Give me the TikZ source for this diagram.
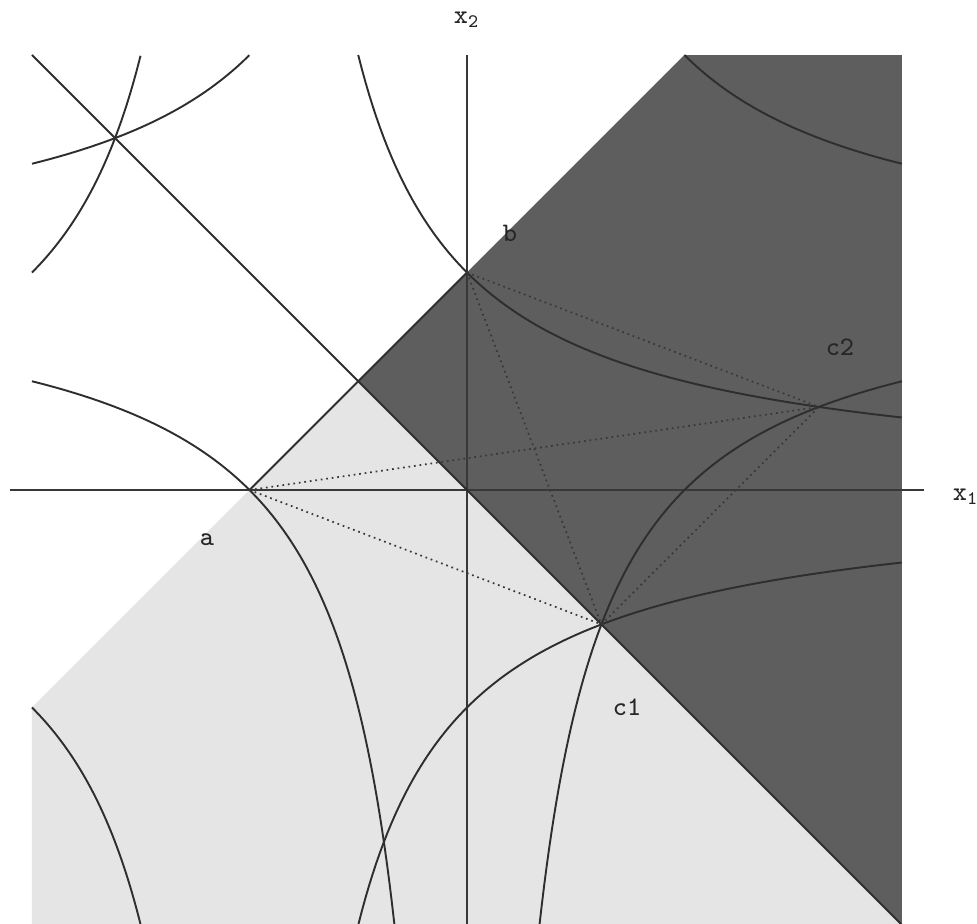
\documentclass[tikz,border=0pt]{standalone}
\begin{document}
\begin{tikzpicture}[x=2cm,y=2cm,
  curve/.style={line width=0.5pt, black!82},
  chord/.style={line width=0.45pt, black!78, densely dotted},
  axis/.style={line width=0.5pt, black!78},
  lbl/.style={font=\fontsize{7}{8}\selectfont\ttfamily, inner sep=0pt, text=black!85}]
\useasboundingbox (-2.147,-1.991) rectangle (2.345,2.253);
\clip (-2.147,-1.991) rectangle (2.345,2.253);
% regions
\fill[black!10] (-2,-1) -- (1,2) -- (2,2) -- (2,-2.1) -- (-2,-2.1) -- cycle;
\fill[black!63] (-0.5,0.5) -- (1,2) -- (2,2) -- (2,-2) -- cycle;
% points
\coordinate (O) at (0,0);
\coordinate (a) at (-1,0);
\coordinate (b) at (0,1);
\coordinate (c1) at (0.618034,-0.618034);
\coordinate (c2) at (1.618034,0.381966);
\coordinate (x1w) at (-2.1,0);
\coordinate (x1e) at (2.1,0);
\coordinate (x2s) at (0,-2.1);
\coordinate (x2n) at (0,2);
\coordinate (nw) at (-2,2);
\coordinate (se) at (2,-2);
% axes and lines
\draw[axis] (x1w) -- (x1e);
\draw[axis] (x2s) -- (x2n);
\draw[curve] (nw) -- (se);
\draw[curve] (a) -- (b);
% hyperbolas centred at b: x1 (x2-1) = +-1
\draw[curve] plot[domain=-2:-0.33333, samples=150] (\x, {1+1/\x});
\draw[curve] plot[domain=1:2, samples=80] (\x, {1+1/\x});
\draw[curve] plot[domain=-2:-1, samples=80] (\x, {1-1/\x});
\draw[curve] plot[domain=0.33333:2, samples=150] (\x, {1-1/\x});
% hyperbolas centred at a: (x1+1) x2 = +-1
\draw[curve] plot[domain=-0.5:2, samples=150] (\x, {1/(\x+1)});
\draw[curve] plot[domain=-2:-1.5, samples=80] (\x, {1/(\x+1)});
\draw[curve] plot[domain=-2:-1.5, samples=80] (\x, {-1/(\x+1)});
\draw[curve] plot[domain=-0.5:2, samples=150] (\x, {-1/(\x+1)});
% dotted chords
\draw[chord] (a) -- (c1);
\draw[chord] (a) -- (c2);
\draw[chord] (b) -- (c1);
\draw[chord] (b) -- (c2);
\draw[chord] (c1) -- (c2);
% labels
\node[lbl] (la) at (-1.195,-0.23) {a};
\node[lbl] (lb) at (0.198,1.182) {b};
\node[lbl] (lc1) at (0.736,-0.998) {c1};
\node[lbl] (lc2) at (1.715,0.657) {c2};
\node[lbl] (lx1) at (2.294,-0.03) {x\textsubscript{1}};
\node[lbl] (lx2) at (0,2.161) {x\textsubscript{2}};
\end{tikzpicture}
\end{document}
